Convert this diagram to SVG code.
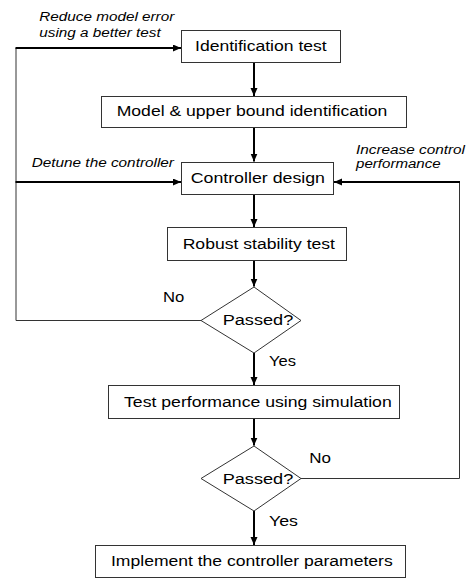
<svg xmlns="http://www.w3.org/2000/svg" width="470" height="579" viewBox="0 0 470 579">
<style>
.box{fill:#fff;stroke:#333;stroke-width:1}
.t{font-family:"Liberation Sans",Arial,sans-serif;font-size:14px;fill:#000}
.i{font-family:"Liberation Sans",Arial,sans-serif;font-size:12px;font-style:italic;fill:#000}
.a{fill:none;stroke:#000;stroke-width:2}
.l{fill:none;stroke:#333;stroke-width:1}
</style>
<defs>
<marker id="ah" markerUnits="userSpaceOnUse" markerWidth="9" markerHeight="8" refX="8" refY="3.5" orient="auto">
<path d="M0,0 L8,3.5 L0,7 z" fill="#000"/>
</marker>
</defs>
<rect width="470" height="579" fill="#fff"/>
<g id="connectors">
<path class="a" d="M254,63 V96" marker-end="url(#ah)"/>
<path class="a" d="M254,128 V161.5" marker-end="url(#ah)"/>
<path class="a" d="M254,195 V227" marker-end="url(#ah)"/>
<path class="a" d="M254,261 V286.5" marker-end="url(#ah)"/>
<path class="a" d="M254,353 V385" marker-end="url(#ah)"/>
<path class="a" d="M254,419 V445.5" marker-end="url(#ah)"/>
<path class="a" d="M254,511 V545" marker-end="url(#ah)"/>
<path class="l" d="M201,320.5 H16 V48"/>
<path class="a" d="M15.5,48 H181" marker-end="url(#ah)"/>
<path class="a" d="M15.5,182 H181" marker-end="url(#ah)"/>
<path class="l" d="M301,478.5 H459.5 V182"/>
<path class="a" d="M460,182 H334" marker-end="url(#ah)"/>
<text class="i" x="39.3" y="20.7" textLength="135" lengthAdjust="spacingAndGlyphs">Reduce model error</text>
<text class="i" x="39.3" y="37.3" textLength="121.4" lengthAdjust="spacingAndGlyphs">using a better test</text>
<text class="i" x="31.7" y="166.7" textLength="142.3" lengthAdjust="spacingAndGlyphs">Detune the controller</text>
<text class="i" x="356" y="154.3" textLength="109" lengthAdjust="spacingAndGlyphs">Increase control</text>
<text class="i" x="356" y="167.8" textLength="84.7" lengthAdjust="spacingAndGlyphs">performance</text>
<text class="t" x="163" y="301.7" textLength="21.3" lengthAdjust="spacingAndGlyphs">No</text>
<text class="t" x="269" y="365.7" textLength="27" lengthAdjust="spacingAndGlyphs">Yes</text>
<text class="t" x="309.3" y="463.3" textLength="21.7" lengthAdjust="spacingAndGlyphs">No</text>
<text class="t" x="269" y="526" textLength="29" lengthAdjust="spacingAndGlyphs">Yes</text>
</g>
<g id="n1">
<rect class="box" x="181.5" y="30.5" width="159" height="32"/>
<text class="t" x="195" y="50.7" textLength="131.7" lengthAdjust="spacingAndGlyphs">Identification test</text>
</g>
<g id="n2">
<rect class="box" x="101.5" y="96.5" width="305" height="31"/>
<text class="t" x="116.7" y="116" textLength="270.7" lengthAdjust="spacingAndGlyphs">Model &amp; upper bound identification</text>
</g>
<g id="n3">
<rect class="box" x="181.5" y="162.5" width="152" height="32"/>
<text class="t" x="190.7" y="182.7" textLength="134.3" lengthAdjust="spacingAndGlyphs">Controller design</text>
</g>
<g id="n4">
<rect class="box" x="167.5" y="227.5" width="179" height="33"/>
<text class="t" x="182.7" y="249" textLength="152.3" lengthAdjust="spacingAndGlyphs">Robust stability test</text>
</g>
<g id="n5">
<polygon class="box" points="254,287 301,320.5 254,353 201,320.5"/>
<text class="t" x="222.7" y="325" textLength="70.6" lengthAdjust="spacingAndGlyphs">Passed?</text>
</g>
<g id="n6">
<rect class="box" x="108.5" y="385.5" width="291" height="33"/>
<text class="t" x="124" y="407.3" textLength="267.7" lengthAdjust="spacingAndGlyphs">Test performance using simulation</text>
</g>
<g id="n7">
<polygon class="box" points="254,446 301,478.5 254,511 201,478.5"/>
<text class="t" x="222.7" y="484" textLength="70.6" lengthAdjust="spacingAndGlyphs">Passed?</text>
</g>
<g id="n8">
<rect class="box" x="95.5" y="545.5" width="310" height="32"/>
<text class="t" x="111" y="566" textLength="281.7" lengthAdjust="spacingAndGlyphs">Implement the controller parameters</text>
</g>
</svg>
